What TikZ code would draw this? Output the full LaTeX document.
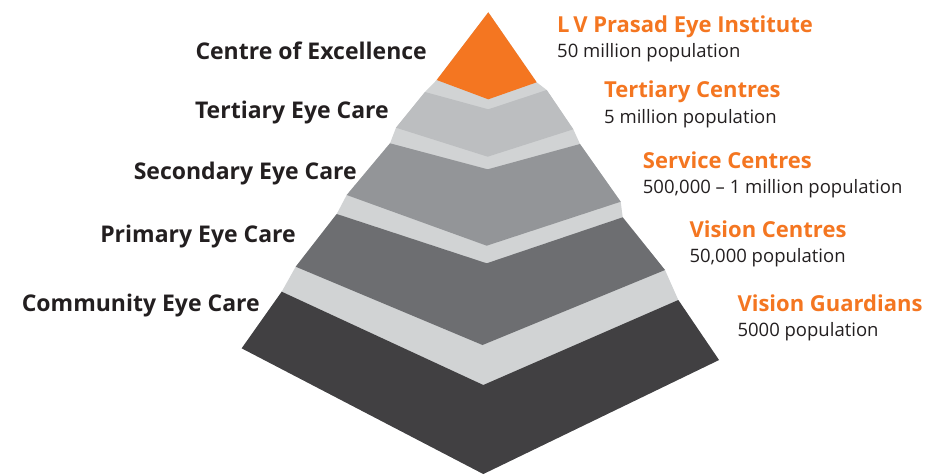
\documentclass[tikz,border=0pt]{standalone}
\usepackage{fontspec}
\setmainfont{Open Sans}
\definecolor{orng}{HTML}{F47621}
\definecolor{lite}{HTML}{D1D3D4}
\definecolor{tierB}{HTML}{BCBEC0}
\definecolor{tierC}{HTML}{939598}
\definecolor{tierD}{HTML}{6D6E71}
\definecolor{tierE}{HTML}{414042}
\definecolor{ink}{HTML}{231F20}
\tikzset{
  lab/.style={inner sep=0pt, text=ink, font=\fontsize{23}{26}\selectfont\bfseries, anchor=base east},
  ttl/.style={inner sep=0pt, text=orng, font=\fontsize{22}{26}\selectfont\bfseries, anchor=base west},
  pop/.style={inner sep=0pt, text=ink, font=\fontsize{18.5}{22}\selectfont, anchor=base west},
}
\begin{document}
\begin{tikzpicture}[x=1pt,y=-1pt]
\useasboundingbox (0,0) rectangle (928,474);
% coordinates
\coordinate (ap) at (488.3,12.3);
\coordinate (oL) at (436.7,80);   \coordinate (oM) at (488.3,99.3);  \coordinate (oR) at (536.7,82.3);
\coordinate (bTL) at (425,92);    \coordinate (bTM) at (488.3,109.3); \coordinate (bTR) at (546.7,90);
\coordinate (bBL) at (396,127.7); \coordinate (bBM) at (487.7,156.7); \coordinate (bBR) at (573.3,129.3);
\coordinate (cTL) at (390,143.3); \coordinate (cTM) at (487.7,169.3); \coordinate (cTR) at (580,144);
\coordinate (cBL) at (346.7,195); \coordinate (cBM) at (486.7,245.7); \coordinate (cBR) at (620.7,201.7);
\coordinate (dTL) at (336.7,214); \coordinate (dTM) at (486.7,263.3); \coordinate (dTR) at (622.7,217.3);
\coordinate (dBL) at (295.7,266.7); \coordinate (dBM) at (482.5,345); \coordinate (dBR) at (665,270);
\coordinate (eTL) at (281.7,291.7); \coordinate (eTM) at (483.3,385); \coordinate (eTR) at (678.3,300);
\coordinate (eBL) at (241.7,348.3); \coordinate (eBM) at (483.3,474); \coordinate (eBR) at (719,360);
% light top surfaces
\fill[lite] (ap) -- (oL) -- (bTL) -- (bBL) -- (cTL) -- (cBL) -- (dTL) -- (dBL) -- (eTL) -- (eBL) -- (eBM)
  -- (eBR) -- (eTR) -- (dBR) -- (dTR) -- (cBR) -- (cTR) -- (bBR) -- (bTR) -- (oR) -- cycle;
% faces
\fill[tierE] (eTL) -- (eTM) -- (eTR) -- (eBR) -- (eBM) -- (eBL) -- cycle;
\fill[tierD] (dTL) -- (dTM) -- (dTR) -- (dBR) -- (dBM) -- (dBL) -- cycle;
\fill[tierC] (cTL) -- (cTM) -- (cTR) -- (cBR) -- (cBM) -- (cBL) -- cycle;
\fill[tierB] (bTL) -- (bTM) -- (bTR) -- (bBR) -- (bBM) -- (bBL) -- cycle;
\fill[orng] (ap) -- (oR) -- (oM) -- (oL) -- cycle;
% left labels
\node[lab] (l1) at (427,59.3) {Centre of Excellence};
\node[lab] (l2) at (389,118.3) {Tertiary Eye Care};
\node[lab] (l3) at (357,179) {Secondary Eye Care};
\node[lab] (l4) at (296,242.3) {Primary Eye Care};
\node[lab] (l5) at (260,311) {Community Eye Care};
% right labels
\node[ttl] (r1) at (557,32.7) {L\,V Prasad Eye Institute};
\node[pop] (p1) at (557,57.7) {50 million population};
\node[ttl] (r2) at (604,97.3) {Tertiary Centres};
\node[pop] (p2) at (604,123.3) {5 million population};
\node[ttl] (r3) at (642.7,168.3) {Service Centres};
\node[pop] (p3) at (642.7,193.3) {500,000 – 1 million population};
\node[ttl] (r4) at (689.3,237.3) {Vision Centres};
\node[pop] (p4) at (689.3,262.7) {50,000 population};
\node[ttl] (r5) at (737.3,311.7) {Vision Guardians};
\node[pop] (p5) at (737.3,336.7) {5000 population};
\end{tikzpicture}
\end{document}
